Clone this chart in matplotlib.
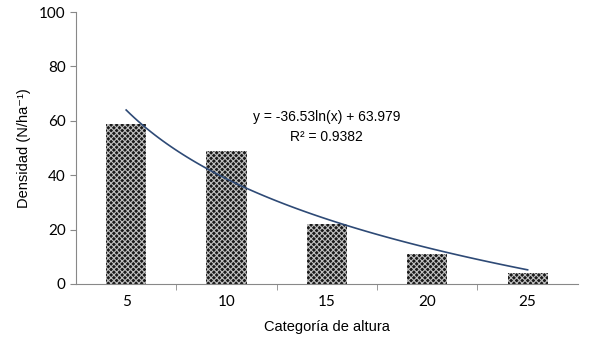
import matplotlib.pyplot as plt
import numpy as np

categorias = ["5", "10", "15", "20", "25"]
densidad = [59, 49, 22, 11, 4]
# coeficientes de la linea de tendencia (del grafico)
a_coef = -36.53
b_coef = 63.979

plt.rcParams["hatch.color"] = "#c0c0c0"
plt.rcParams["hatch.linewidth"] = 0.8

fig = plt.figure(figsize=(5.89, 3.45), dpi=100)
ax = fig.add_axes([0.129, 0.177, 0.852, 0.788])

x = np.arange(1, len(categorias) + 1)
ax.bar(x, densidad, width=0.4, color="#1a1a1a", hatch="xxxxxx", edgecolor="#c0c0c0", linewidth=0)

xt = np.linspace(1, len(categorias), 100)
ax.plot(xt, a_coef * np.log(xt) + b_coef, color="#2e4a76", lw=1.2)

ax.text(3.0, 61.4, "y = -36.53ln(x) + 63.979", ha="center", va="center",
        fontsize=10, family="Liberation Sans")
ax.text(3.0, 54.0, "R² = 0.9382", ha="center", va="center",
        fontsize=10, family="Liberation Sans")

ax.set_xlim(0.5, 5.5)
ax.set_ylim(0, 100)
ax.set_yticks([0, 20, 40, 60, 80, 100])
ax.set_xticks(x)
ax.set_xticklabels(categorias)
ax.set_xticks(np.arange(1.5, 5.5, 1), minor=True)
ax.tick_params(axis="x", which="major", length=0, pad=8, labelsize=11)
ax.tick_params(axis="x", which="minor", length=4, color="#888888")
ax.tick_params(axis="y", length=4, color="#888888", labelsize=11)
for lab in ax.get_xticklabels() + ax.get_yticklabels():
    lab.set_family("Lato")

for s in ["top", "right"]:
    ax.spines[s].set_visible(False)
ax.spines["left"].set_color("#888888")
ax.spines["bottom"].set_color("#888888")

ax.set_xlabel("Categoría de altura", family="Liberation Sans", fontsize=10.5, labelpad=8)
ax.set_ylabel("Densidad (N/ha⁻¹)", family=["Liberation Sans", "DejaVu Sans"],
              fontsize=10.5, labelpad=6)

fig.savefig("out.png", dpi=100)
